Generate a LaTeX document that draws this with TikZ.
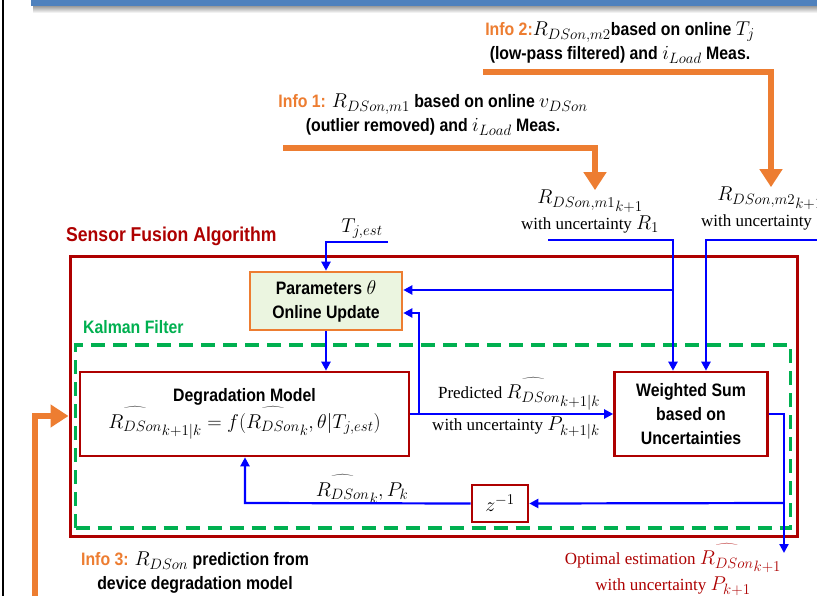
\RequirePackage{fix-cm}
\documentclass[tikz,border=0pt]{standalone}
\usepackage{fontspec}
\setmainfont{Liberation Serif}
\newfontfamily\cond[FakeStretch=0.88]{Liberation Sans}
\DeclareMathSizes{17}{20}{15}{11}
\DeclareMathSizes{18}{20}{15}{11}
\usetikzlibrary{arrows.meta,calc}
\definecolor{dred}{HTML}{AE0000}
\definecolor{org}{HTML}{ED7D31}
\definecolor{kgreen}{HTML}{00B050}
\definecolor{pblue}{HTML}{0000FF}
\definecolor{pfill}{HTML}{EBF5E0}
\definecolor{barblue}{HTML}{4F81BD}
\newcommand\bft{\cond\bfseries\fontsize{18}{24}\selectfont}
\newcommand\stt{\fontsize{17}{26}\selectfont}
\newcommand\Rh{\mathord{\setbox0\hbox{$R_{DSon}$}\vbox{\offinterlineskip\hbox to\wd0{\hss\resizebox{0.92\wd0}{7pt}{$\widehat{\hphantom{xxx}}$}\hss}\kern1pt\box0}}}
\newcommand\Rs[1]{\Rh_{\lower3pt\hbox{$\scriptstyle #1$}}}
\begin{document}
\begin{tikzpicture}[x=1pt,y=-1pt,
  box/.style={draw=dred,line width=2.6pt,fill=white,inner sep=0pt,align=center},
  st/.style={font=\stt,align=center,inner sep=0pt},
  bt/.style={font=\bft,align=center,inner sep=0pt},
  bl/.style={draw=pblue,line width=2.2pt},
  bla/.style={bl,-{Triangle[length=9pt,width=9pt]}},
  oa/.style={draw=org,line width=5.5pt,-{Triangle[length=18pt,width=22pt]}}]
\useasboundingbox (0,0) rectangle (817,596);
\fill[white] (0,0) rectangle (817,596);
% frame bits
\draw[line width=2pt] (3,0) -- (3,596);
\shade[top color=black!45, bottom color=white] (33,5) rectangle (817,13);
\fill[barblue] (31,0) rectangle (817,6);
% outer containers
\node[draw=dred,line width=3pt,minimum width=727,minimum height=280,inner sep=0pt] (sfa) at (433.5,396.5) {};
\node[draw=kgreen,line width=3.5pt,dash pattern=on 14pt off 8pt,minimum width=715,minimum height=183,inner sep=0pt] (kf) at (433,436.5) {};
\node[font=\cond\bfseries\fontsize{20}{24}\selectfont,text=dred,anchor=west,inner sep=0pt] (sfal) at (66,236) {Sensor Fusion Algorithm};
\node[bt,text=kgreen,anchor=west] (kfl) at (83,327) {Kalman Filter};
% blocks
\node[box,draw=org,fill=pfill,minimum width=152,minimum height=58,font=\bft] (par) at (326,301) {Parameters $\theta$\\Online Update};
\node[box,minimum width=329,minimum height=84] (dm) at (244.5,414) {\bft Degradation Model\\[0pt] \stt $\Rs{k+1|k}=f(\Rs{k},\theta|T_{j,est})$};
\node[box,minimum width=153,minimum height=84,font=\bft] (ws) at (691,414) {Weighted Sum\\based on\\Uncertainties};
\node[box,minimum width=56,minimum height=37,font=\stt] (z) at (500,503.5) {$z^{-1}$};
% info texts
\node[bt] (info2) at (620,43) {\textcolor{org}{Info 2:}$R_{DSon,m2}$based on online $T_j$\\(low-pass filtered) and $i_{Load}$ Meas.};
\node[bt] (info1) at (433,115) {\textcolor{org}{Info 1:} $R_{DSon,m1}$ based on online $v_{DSon}$\\(outlier removed) and $i_{Load}$ Meas.};
\node[bt] (info3) at (195,573) {\textcolor{org}{Info 3:} $R_{DSon}$ prediction from\\device degradation model};
\node[st] (m1l) at (590,212) {${R_{DSon,m1}}_{k+1}$\\with uncertainty $R_1$};
\node[st] (m2l) at (770,209) {${R_{DSon,m2}}_{k+1}$\\with uncertainty $R_2$};
\node[st] (tj) at (362,229) {$T_{j,est}$};
\node[st,anchor=south] (predl) at (519,410) {Predicted $\Rs{k+1|k}$};
\node[st,anchor=north] (uncl) at (516,417) {with uncertainty $P_{k+1|k}$};
\node[st] (rk) at (362,489) {$\Rs{k}, P_k$};
\node[st,text=dred,anchor=north] (opt) at (673,543) {Optimal estimation $\Rs{k+1}$\\with uncertainty $P_{k+1}$};
% orange arrows
\coordinate (o1s) at (283,148); \coordinate (o1c) at (595,148);
\draw[oa] (o1s) -- (o1c) -- (o1c |- m1l.north);
\coordinate (o2s) at (483,72); \coordinate (o2c) at (771,72);
\draw[oa] (o2s) -- (o2c) -- (o2c |- m2l.north);
\coordinate (o3s) at (35,600); \coordinate (o3c) at (35,416);
\draw[oa] (o3s) -- (o3c) -- (o3c -| sfa.west);
% blue connectors
\coordinate (tjr) at (388,242);
\draw[bla] (tjr) -- (tjr -| par) -- (par.north);
\coordinate (m1s) at (548,240); \coordinate (m1c) at (673,240);
\draw[bla] (m1s) -- (m1c) -- (m1c |- ws.north);
\coordinate (br1) at (673,290);
\draw[bla] (br1) -- (br1 -| par.east);
\coordinate (m2s) at (820,240); \coordinate (m2c) at (706,240);
\draw[bla] (m2s) -- (m2c) -- (m2c |- ws.north);
\draw[bla] (par.south) -- (par.south |- dm.north);
\draw[bla] (dm.east) -- (ws.west);
\coordinate (pv) at (419,414); \coordinate (pu) at (419,313);
\draw[bla] (pv) -- (pu) -- (pu -| par.east);
\coordinate (oc) at (784,414); \coordinate (oe) at (784,553);
\draw[bla] (ws.east) -- (oc) -- (oe);
\coordinate (fb) at (784,503);
\draw[bla] (fb) -- (z.east);
\coordinate (zl) at (245,503);
\draw[bla] (z.west) -- (zl) -- (zl |- dm.south);
\end{tikzpicture}
\end{document}
